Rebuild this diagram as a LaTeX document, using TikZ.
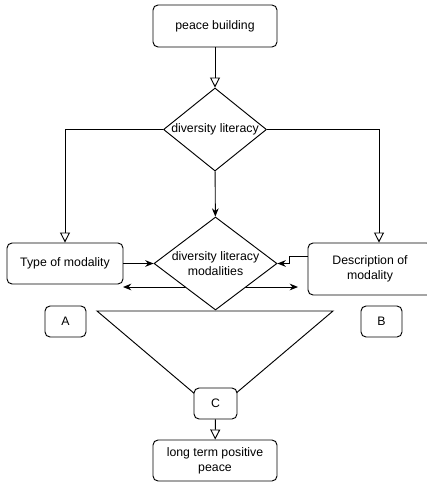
\documentclass[tikz,border=0pt]{standalone}
\usepackage{fontspec}
\setmainfont{Liberation Sans}
\usetikzlibrary{arrows.meta,positioning,shapes.geometric}

\begin{document}
\begin{tikzpicture}[
    x=0.03cm, y=-0.03cm,
    line width=0.8pt,
    every node/.style={font=\fontsize{10.5}{12.5}\selectfont},
    box/.style={rectangle, rounded corners=0.15cm, draw, fill=white, align=center, inner sep=0pt},
    decision/.style={diamond, draw, fill=white, align=center, inner sep=0pt},
    openarrow/.style={-{Triangle[open, length=0.3cm, width=0.3cm]}},
    fillarrow/.style={-{Stealth[length=0.25cm, width=0.2cm]}}
]
\clip (0,0) rectangle (427,482);

% Double arrow behind the lower diamond
\coordinate (lend) at (123,287);
\coordinate (rend) at (298,287);
\draw[{Stealth[length=0.25cm, width=0.2cm]}-{Stealth[length=0.25cm, width=0.2cm]}] (lend) -- (rend);

% Main column
\node[box, minimum width=3.72cm, minimum height=1.26cm] (peace) at (215,26) {peace building};
\node[decision, aspect=1.24, minimum width=3.09cm, minimum height=2.49cm] (div) at (215,129.5) {diversity literacy};
\node[decision, aspect=1.32, minimum width=3.69cm, minimum height=2.79cm] (mod) at (215.5,263.5) {diversity literacy\\modalities};

% Side boxes
\node[box, minimum width=3.48cm, minimum height=1.23cm] (type) at (65,263.5) {Type of modality};
\node[box, minimum width=3.72cm, minimum height=1.56cm] (desc) at (370,269) {Description of\\modality};
\node[box, minimum width=1.23cm, minimum height=0.93cm] (a) at (65.5,321.5) {A};
\node[box, minimum width=1.23cm, minimum height=0.93cm] (b) at (381.5,321.5) {B};

% Funnel
\draw (97,311) -- (333,311) -- (215,411) -- cycle;
\node[box, minimum width=1.29cm, minimum height=0.93cm] (c) at (215.5,403.5) {C};
\node[box, minimum width=3.72cm, minimum height=1.23cm] (peace2) at (215,460.5) {long term positive\\peace};

% Connectors
\draw[openarrow] (peace) -- (div);
\draw[openarrow] (div.west) -| (type.north);
\draw[openarrow] (div.east) -| ([xshift=0.27cm]desc.north);
\draw[fillarrow] (div) -- (mod);
\draw[fillarrow] (type) -- (mod);
\draw[fillarrow] ([yshift=0.39cm]desc.west) -- ++(-18,0) |- (mod.east);
\draw[openarrow] (c) -- (peace2);

\end{tikzpicture}
\end{document}
